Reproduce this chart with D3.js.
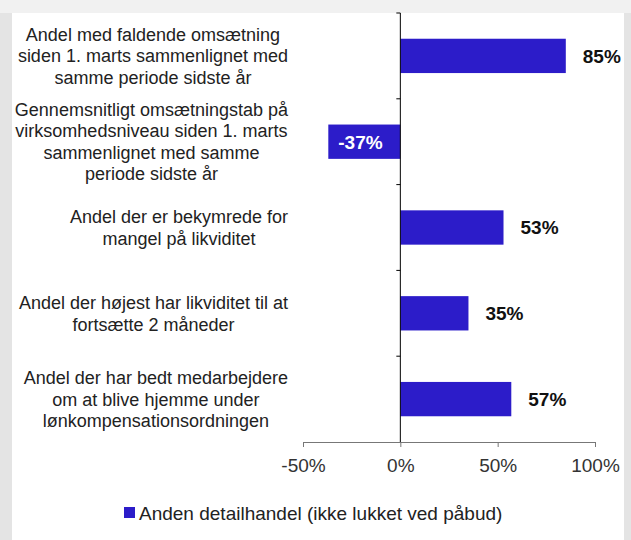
<!DOCTYPE html>
<html>
<head>
<meta charset="utf-8">
<script src="https://cdn.jsdelivr.net/npm/d3@7"></script>
<style>
  body { margin: 0; background: #e4e4e4; }
  svg { display: block; font-family: "Liberation Sans", Arial, sans-serif; }
</style>
</head>
<body>
<div id="chart"></div>
<script>
// data
var categories = [
	['Andel med faldende omsætning', 'siden 1. marts sammenlignet med', 'samme periode sidste år'],
	['Gennemsnitligt omsætningstab på', 'virksomhedsniveau siden 1. marts', 'sammenlignet med samme', 'periode sidste år'],
	['Andel der er bekymrede for', 'mangel på likviditet'],
	['Andel der højest har likviditet til at', 'fortsætte 2 måneder'],
	['Andel der har bedt medarbejdere', 'om at blive hjemme under', 'lønkompensationsordningen']
]
var values = [85, -37, 53, 35, 57]
var xTicks = [-50, 0, 50, 100]
var seriesName = 'Anden detailhandel (ikke lukket ved påbud)'

var width = 631, height = 540
var barColor = '#2c1cc9'

var svg = d3.select('#chart').append('svg')
	.attr('width', width).attr('height', height)

// page backdrop + white panel
svg.append('rect').attr('x', 0).attr('y', 0).attr('width', width).attr('height', 13).attr('fill', '#f1f1f1')
svg.append('rect').attr('x', 12).attr('y', 13).attr('width', 612).attr('height', height - 13).attr('fill', '#fff')

var x = d3.scaleLinear().domain([-50, 100]).range([303, 595])
var ids = categories.map(function(d, i) { return i })
var y = d3.scaleBand().domain(ids).range([13, 442]).paddingInner(0.6).paddingOuter(0.3)
var step = y.step()

// bars
svg.selectAll('rect.bar').data(values).enter().append('rect')
	.attr('class', 'bar')
	.attr('x', function(d) { return x(Math.min(0, d)) })
	.attr('y', function(d, i) { return y(i) })
	.attr('width', function(d) { return Math.abs(x(d) - x(0)) })
	.attr('height', y.bandwidth())
	.attr('fill', barColor)

// value labels
svg.selectAll('text.val').data(values).enter().append('text')
	.attr('class', 'val')
	.attr('x', function(d) { return d < 0 ? x(d) + 10 : x(d) + 17 })
	.attr('y', function(d, i) { return y(i) + y.bandwidth() / 2 })
	.attr('dy', '0.36em')
	.attr('fill', function(d) { return d < 0 ? '#fff' : '#111' })
	.style('font-size', '19px').style('font-weight', 'bold')
	.text(function(d) { return d + '%' })

// x axis
var axisY = 442
var xAxis = svg.append('g').attr('transform', 'translate(0,' + axisY + ')')
	.call(d3.axisBottom(x).tickValues(xTicks).tickSize(5).tickPadding(12).tickFormat(function(d) { return d + '%' }))
xAxis.select('.domain').attr('stroke', '#777')
xAxis.selectAll('.tick line').attr('stroke', '#777')
xAxis.selectAll('.tick text').attr('fill', '#333').style('font-size', '19px')
	.style('font-family', '"Liberation Sans", Arial, sans-serif')

// zero line with category ticks
svg.append('line').attr('x1', x(0)).attr('x2', x(0)).attr('y1', 13).attr('y2', axisY)
	.attr('stroke', '#000').attr('stroke-width', 1)
svg.selectAll('line.ctick').data(d3.range(categories.length)).enter().append('line')
	.attr('class', 'ctick')
	.attr('x1', x(0) - 4).attr('x2', x(0))
	.attr('y1', function(d) { return 13 + d * step }).attr('y2', function(d) { return 13 + d * step })
	.attr('stroke', '#000')

// category labels: block right-aligned, lines centred
var lineH = 21.5, labelRight = 288
categories.forEach(function(lines, i) {
	var g = svg.append('g')
	var cy = y(i) + y.bandwidth() / 2
	var texts = lines.map(function(l, j) {
		return g.append('text')
			.attr('y', cy + (j - (lines.length - 1) / 2) * lineH)
			.attr('dy', '0.36em')
			.attr('text-anchor', 'middle')
			.attr('fill', '#222')
			.style('font-size', '18px')
			.text(l)
	})
	var maxW = d3.max(texts, function(t) { return t.node().getComputedTextLength() })
	texts.forEach(function(t) { t.attr('x', labelRight - maxW / 2) })
})

// legend
var leg = svg.append('g')
leg.append('rect').attr('x', 124).attr('y', 507).attr('width', 11).attr('height', 11).attr('fill', barColor)
leg.append('text').attr('x', 139).attr('y', 513).attr('dy', '0.36em')
	.attr('fill', '#222').style('font-size', '19px').text(seriesName)
</script>
</body>
</html>
